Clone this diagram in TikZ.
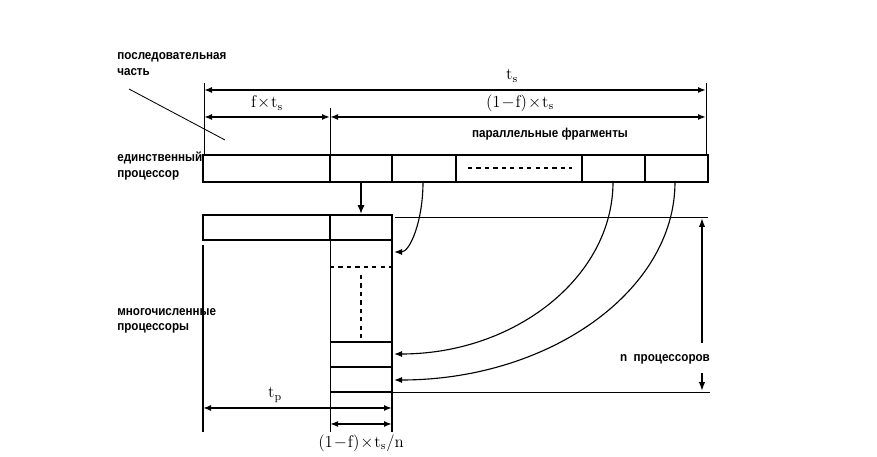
\documentclass[tikz,border=0pt]{standalone}
\usepackage{fontspec}
\newfontfamily\rusfont[FakeStretch=0.9]{Liberation Sans}
\usetikzlibrary{arrows.meta,calc,positioning}

\begin{document}
\begin{tikzpicture}[
  x=0.025cm,y=-0.025cm,>=Latex,
  dim/.style={{Latex[length=2mm,width=1.5mm]}-{Latex[length=2mm,width=1.5mm]},line width=1.1pt},
  bar/.style={draw,line width=1.4pt},
  guide/.style={line width=0.6pt},
  feed/.style={-{Latex[length=2mm,width=1.5mm]},line width=0.8pt},
  rlabel/.style={font=\rusfont\bfseries\fontsize{9.2}{10.8}\selectfont,
    align=left,inner sep=0pt},
  mlabel/.style={font=\fontsize{12}{14}\selectfont,inner sep=1pt}
]
\useasboundingbox (0,0) rectangle (877,457);

% one processor: serial part, then parallel fragments
\draw[bar] (203,155) rectangle (708,182);
\foreach \x in {330,392,456,582,645}
  \draw[bar] (\x,155) -- (\x,182);
\draw[dashed,line width=1pt] (468,168) -- (572,168);

\coordinate (sL) at (204,90);
\coordinate (sR) at (706,90);
\coordinate (fL) at (204,117);
\coordinate (fM) at (330,117);
\coordinate (fR) at (706,117);
\draw[guide] (204,83) -- (204,155);
\draw[guide] (706,83) -- (706,155);
\draw[guide] (330,108) -- (330,155);
\draw[dim] (sL) -- (sR);
\draw[dim] (fL) -- (fM);
\draw[dim] (fM) -- (fR);
\node[mlabel] (ts) at (512,76) {$\mathrm{t_s}$};
\node[mlabel] (fts) at (267,103) {$\mathrm{f}\!\times\!\mathrm{t_s}$};
\node[mlabel] (pts) at (520,103) {$(1\!-\!\mathrm{f})\!\times\!\mathrm{t_s}$};
\node[rlabel] (frag) at (550,134) {параллельные фрагменты};

\node[rlabel,anchor=west] (serial) at (117,64) {последовательная\\часть};
\coordinate (sTip) at (225,140);
\draw[guide] (129,89) -- (sTip);
\node[rlabel,anchor=west] (single) at (117,166) {единственный\\процессор};

% many processors
\draw[bar] (203,215) rectangle (392,240);
\draw[bar] (330,215) -- (330,240);
\draw[line width=1.6pt] (203,245) -- (203,432);
\draw[guide] (330,240) -- (330,432);
\draw[bar] (392,240) -- (392,432);
\draw[dashed,line width=1.2pt] (330,267) -- (392,267);
\draw[dashed,line width=1.2pt] (361,275) -- (361,338);
\draw[bar] (330,342) -- (392,342);
\draw[line width=1.1pt] (330,367) -- (392,367);
\draw[bar] (330,392) -- (392,392);
\node[rlabel,anchor=west] (multi) at (117,321) {многочисленные\\процессоры};

\coordinate (dTop) at (361,182);
\coordinate (dBot) at (361,214);
\draw[-{Latex[length=2.2mm,width=1.8mm]},line width=1.6pt] (dTop) -- (dBot);

\coordinate (c1) at (423,182);
\coordinate (c2) at (613,182);
\coordinate (c3) at (675,182);
\coordinate (e1) at (394,252);
\coordinate (e2) at (394,354);
\coordinate (e3) at (394,380);
\draw[feed] (c1) .. controls (423,221) and (410,252) .. (e1);
\draw[feed] (c2) .. controls (613,277) and (515,354) .. (e2);
\draw[feed] (c3) .. controls (675,291) and (549,380) .. (e3);

\draw[guide] (395,217) -- (708,217);
\draw[guide] (392,392) -- (710,392);
\coordinate (nTop) at (702,218);
\coordinate (nBot) at (702,391);
\node[rlabel] (nproc) at (665,359) {n\ \ процессоров};
\draw[-{Latex[length=2.2mm,width=1.6mm]},line width=1.4pt] (702,343) -- (nTop);
\draw[-{Latex[length=2.2mm,width=1.6mm]},line width=1.4pt] (702,373) -- (nBot);

\coordinate (pL) at (203,408);
\coordinate (pR) at (392,408);
\coordinate (qL) at (330,424);
\coordinate (qR) at (392,424);
\draw[dim] (pL) -- (pR);
\draw[dim] (qL) -- (qR);
\node[mlabel] (tp) at (275,395) {$\mathrm{t_p}$};
\node[mlabel] (tsn) at (361,443) {$(1\!-\!\mathrm{f})\!\times\!\mathrm{t_s}/\mathrm{n}$};

\end{tikzpicture}
\end{document}
